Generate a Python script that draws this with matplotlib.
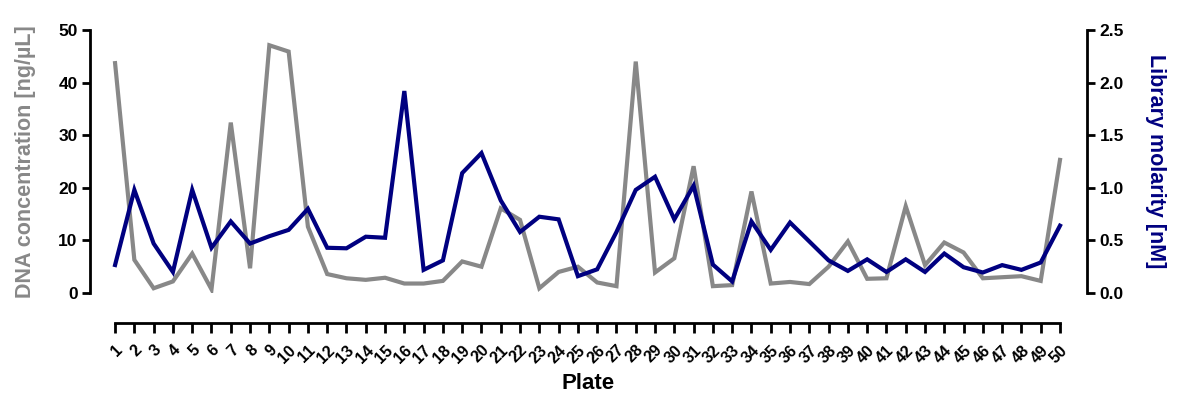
import numpy as np
import matplotlib
matplotlib.use('Agg')
import matplotlib.pyplot as plt

plt.rcParams['font.family'] = ['Liberation Sans', 'DejaVu Sans']
plt.rcParams['font.weight'] = 'bold'

plates = list(range(1, 51))
dna_conc = [43.7, 6.3, 0.9, 2.2, 7.5, 0.7, 32.4, 4.7, 47.1, 45.9,
            12.6, 3.6, 2.8, 2.5, 2.9, 1.8, 1.8, 2.3, 6.0, 5.0,
            16.1, 13.9, 0.9, 4.0, 5.0, 2.0, 1.3, 44.0, 3.9, 6.6,
            24.1, 1.3, 1.5, 19.3, 1.8, 2.1, 1.7, 5.0, 9.8, 2.7,
            2.8, 16.5, 5.3, 9.6, 7.7, 2.8, 3.0, 3.2, 2.3, 25.3]
molarity = [0.266, 0.98, 0.47, 0.20, 0.98, 0.43, 0.68, 0.47, 0.54, 0.60,
            0.80, 0.43, 0.425, 0.535, 0.525, 1.92, 0.22, 0.31, 1.14, 1.33,
            0.88, 0.58, 0.725, 0.70, 0.16, 0.225, 0.58, 0.98, 1.105, 0.70,
            1.02, 0.27, 0.11, 0.68, 0.41, 0.67, 0.49, 0.31, 0.21, 0.32,
            0.20, 0.32, 0.20, 0.375, 0.245, 0.195, 0.265, 0.22, 0.29, 0.64]

W, H = 1181, 396
fig = plt.figure(figsize=(W/100, H/100), dpi=100)
ax = fig.add_axes([90/W, (H-293)/H, (1087-90)/W, (293-30)/H])
ax.plot(plates, dna_conc, color='#888888', lw=3, solid_joinstyle='miter')
ax.set_xlim(-0.3, 51.4)
ax.set_ylim(0, 50)
ax.set_yticks([0, 10, 20, 30, 40, 50])

ax2 = ax.twinx()
ax2.plot(plates, molarity, color='#000080', lw=3, solid_joinstyle='miter')
ax2.set_ylim(0, 2.5)
ax2.set_yticks([0, 0.5, 1.0, 1.5, 2.0, 2.5])
ax2.set_yticklabels(['0.0', '0.5', '1.0', '1.5', '2.0', '2.5'])

for a in (ax, ax2):
    a.spines['top'].set_visible(False)
    a.patch.set_visible(False)
    for s in a.spines.values():
        s.set_linewidth(2)
ax.spines['right'].set_visible(False)
ax2.spines['left'].set_visible(False)
ax2.spines['bottom'].set_visible(False)
ax.spines['bottom'].set_position(('outward', 21.6))
ax.spines['bottom'].set_bounds(1, 50)

ax.set_xticks(plates)
ax.set_xticklabels([str(p) for p in plates], rotation=45, ha='right',
                   rotation_mode='anchor', fontsize=11.5, fontweight='bold')
ax.tick_params(axis='x', length=7, width=2, pad=7)
ax.tick_params(axis='y', length=6, width=2, labelsize=12.5, pad=3)
ax2.tick_params(axis='y', length=6, width=2, labelsize=12.5, pad=3)
for lab in ax.get_yticklabels() + ax2.get_yticklabels():
    lab.set_fontweight('bold')

ax.set_ylabel('DNA concentration [ng/\u00b5L]', color='#888888', fontsize=15.5,
              fontweight='bold', labelpad=16)
ax2.set_ylabel('Library molarity [nM]', color='#000080', fontsize=15.5,
               fontweight='bold', rotation=270, labelpad=30)
ax.set_xlabel('Plate', fontsize=16, fontweight='bold', labelpad=5)

fig.savefig('out.png', dpi=100)
